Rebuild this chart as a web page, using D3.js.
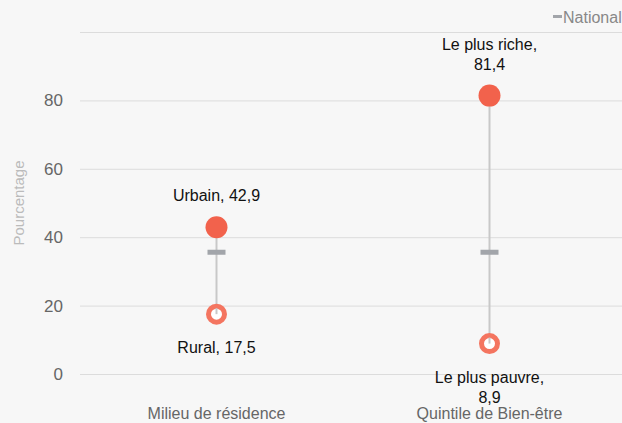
<!DOCTYPE html>
<html><head><meta charset="utf-8">
<script src="https://cdn.jsdelivr.net/npm/d3@7"></script>
<style>
html,body{margin:0;padding:0;background:#f7f7f7;}
svg{display:block;font-family:"Liberation Sans Narrow","Liberation Sans",Arial,sans-serif;}
</style></head>
<body><svg id="chart" width="622" height="423"></svg>
<script>
const categories = ["Milieu de résidence", "Quintile de Bien-être"];
const highValues = [42.9, 81.4];
const lowValues = [17.5, 8.9];
const highLabels = [["Urbain, 42,9"], ["Le plus riche,", "81,4"]];
const lowLabels = [["Rural, 17,5"], ["Le plus pauvre,", "8,9"]];
const nationalValues = [35.6, 35.6];
const yTicks = [0, 20, 40, 60, 80, 100];
const yTickLabels = ["0", "20", "40", "60", "80", ""];

const svg = d3.select("#chart");
const W = 622, H = 423;
const m = {left: 80, right: -4, top: 32, bottom: 49};
const x = d3.scaleBand().domain(categories).range([m.left, W - m.right]);
const y = d3.scaleLinear().domain([0, 100]).range([H - m.bottom, m.top]);
const cx = c => x(c) + x.bandwidth() / 2;

// grid
const yAxis = d3.axisLeft(y).tickValues(yTicks).tickFormat((d, i) => yTickLabels[i]).tickSize(-(W - m.left)).tickPadding(17);
const ga = svg.append("g").attr("transform", `translate(${m.left},0)`).call(yAxis);
ga.select(".domain").remove();
ga.selectAll(".tick line").attr("stroke", "#dcdcdc").attr("stroke-width", 1);
ga.selectAll(".tick text").attr("fill", "#666").attr("font-size", 17).attr("font-family", "Liberation Sans Narrow, Liberation Sans, sans-serif");

svg.append("text").attr("transform", `translate(24,203) rotate(-90)`)
  .attr("text-anchor", "middle").attr("fill", "#bbb").attr("font-size", 15).text("Pourcentage");

// x labels
const xAxis = d3.axisBottom(x).tickSize(0).tickPadding(0);
const gx = svg.append("g").attr("transform", `translate(0,${H - 18})`).call(xAxis);
gx.select(".domain").remove();
gx.selectAll(".tick text").attr("fill", "#666").attr("font-size", 16).attr("dy", "0.9em").attr("font-family", "Liberation Sans Narrow, Liberation Sans, sans-serif");

// connectors
svg.selectAll(".conn").data(categories).join("line")
  .attr("x1", d => cx(d)).attr("x2", d => cx(d))
  .attr("y1", (d, i) => y(highValues[i])).attr("y2", (d, i) => y(lowValues[i]))
  .attr("stroke", "#c8c8c8").attr("stroke-width", 2);

// national
svg.selectAll(".nat").data(categories).join("rect")
  .attr("x", d => cx(d) - 9).attr("y", (d, i) => y(nationalValues[i]) - 2.5)
  .attr("width", 18).attr("height", 5).attr("fill", "#a2a5aa");

// high
svg.selectAll(".hi").data(categories).join("circle")
  .attr("cx", d => cx(d)).attr("cy", (d, i) => y(highValues[i])).attr("r", 11)
  .attr("fill", "#f2624c");
// low
svg.selectAll(".lo").data(categories).join("circle")
  .attr("cx", d => cx(d)).attr("cy", (d, i) => y(lowValues[i])).attr("r", 8)
  .attr("fill", "#fff").attr("stroke", "#f47560").attr("stroke-width", 5);
svg.selectAll(".lo2").data(categories).join("line")
  .attr("x1", d => cx(d)).attr("x2", d => cx(d))
  .attr("y1", (d, i) => y(lowValues[i]) - 6).attr("y2", (d, i) => y(lowValues[i]))
  .attr("stroke", "#c8c8c8").attr("stroke-width", 2);

// labels
categories.forEach((c, i) => {
  const hl = highLabels[i];
  const t = svg.append("text").attr("text-anchor", "middle").attr("fill", "#111").attr("font-size", 16);
  hl.forEach((s, j) => t.append("tspan").attr("x", cx(c)).attr("y", y(highValues[i]) - 26 - (hl.length - 1 - j) * 20).text(s));
  const ll = lowLabels[i];
  const t2 = svg.append("text").attr("text-anchor", "middle").attr("fill", "#111").attr("font-size", 16);
  ll.forEach((s, j) => t2.append("tspan").attr("x", cx(c)).attr("y", y(lowValues[i]) + 39 + j * 20).text(s));
});

// legend
svg.append("rect").attr("x", 553).attr("y", 15).attr("width", 9).attr("height", 3).attr("fill", "#a2a5aa");
svg.append("text").attr("x", 563).attr("y", 23).attr("fill", "#888").attr("font-size", 16).text("National");
</script></body></html>
